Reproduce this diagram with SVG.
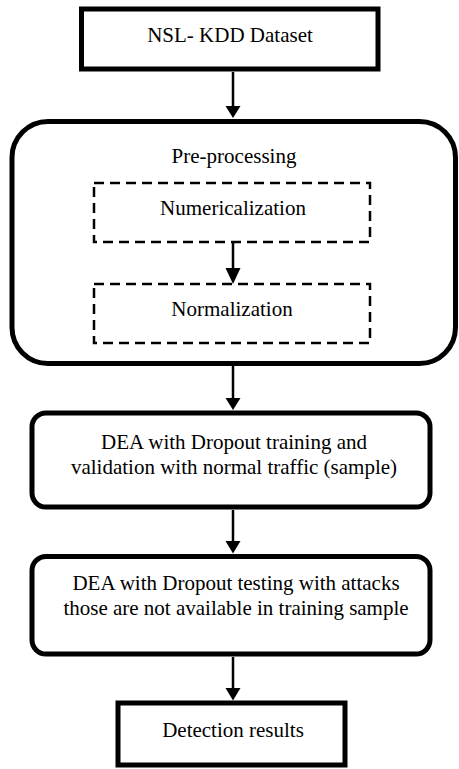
<svg xmlns="http://www.w3.org/2000/svg" width="459" height="769" viewBox="0 0 459 769">
<style>
.box{fill:#fff;stroke:#000;stroke-width:5}
.dash{fill:none;stroke:#000;stroke-width:2.5;stroke-dasharray:10 6}
.t{font-family:"Liberation Serif","Times New Roman",serif;font-size:21px;fill:#000;text-anchor:middle}
.ln{stroke:#000;stroke-width:2.5;fill:none}
.ah{fill:#000}
</style>
<rect width="459" height="769" fill="#fff"/>
<g id="dataset">
<rect class="box" x="81.5" y="9" width="296.5" height="60"/>
<text class="t" x="230" y="42">NSL- KDD Dataset</text>
</g>
<g id="preprocessing">
<rect class="box" x="12" y="121.5" width="443.5" height="242" rx="36"/>
<text class="t" x="234" y="163">Pre-processing</text>
</g>
<g id="numericalization">
<rect class="dash" x="94" y="183" width="276" height="59"/>
<text class="t" x="233" y="215">Numericalization</text>
</g>
<g id="normalization">
<rect class="dash" x="94" y="284" width="276" height="59"/>
<text class="t" x="232" y="316">Normalization</text>
</g>
<g id="training">
<rect class="box" x="32" y="413" width="398" height="94" rx="14"/>
<text class="t" x="234" y="449">DEA with Dropout training and</text>
<text class="t" x="234" y="474">validation with normal traffic (sample)</text>
</g>
<g id="testing">
<rect class="box" x="32" y="556.5" width="398" height="97.5" rx="14"/>
<text class="t" x="236" y="590">DEA with Dropout testing with attacks</text>
<text class="t" x="236" y="615">those are not available in training sample</text>
</g>
<g id="results">
<rect class="box" x="118" y="703" width="227" height="62"/>
<text class="t" x="233" y="737">Detection results</text>
</g>
<g id="connectors">
<line class="ln" x1="233" y1="72" x2="233" y2="108"/>
<polygon class="ah" points="225.5,106 240.5,106 233,118"/>
<line class="ln" x1="233" y1="243" x2="233" y2="270"/>
<polygon class="ah" points="225.5,268 240.5,268 233,284"/>
<line class="ln" x1="233" y1="366" x2="233" y2="400"/>
<polygon class="ah" points="225.5,398 240.5,398 233,410"/>
<line class="ln" x1="233" y1="510" x2="233" y2="543"/>
<polygon class="ah" points="225.5,541 240.5,541 233,553.5"/>
<line class="ln" x1="233" y1="657" x2="233" y2="690"/>
<polygon class="ah" points="225.5,688 240.5,688 233,700.5"/>
</g>
</svg>
